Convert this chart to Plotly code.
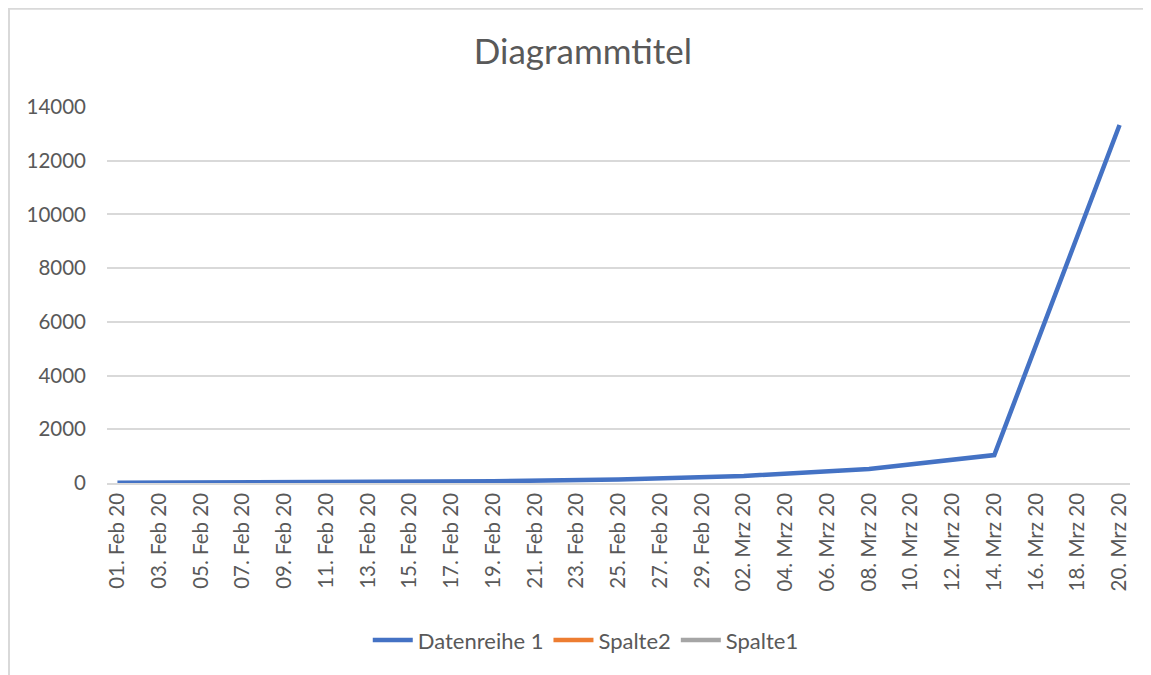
import plotly.graph_objects as go

# Data (dates every 6 days)
dates = ["2020-02-01", "2020-02-07", "2020-02-13", "2020-02-19", "2020-02-25",
         "2020-03-02", "2020-03-08", "2020-03-14", "2020-03-20"]
datenreihe1 = [8, 16, 33, 65, 130, 265, 520, 1040, 13330]
spalte2 = [None] * len(dates)
spalte1 = [None] * len(dates)

tick_dates = ["2020-02-01", "2020-02-03", "2020-02-05", "2020-02-07", "2020-02-09",
              "2020-02-11", "2020-02-13", "2020-02-15", "2020-02-17", "2020-02-19",
              "2020-02-21", "2020-02-23", "2020-02-25", "2020-02-27", "2020-02-29",
              "2020-03-02", "2020-03-04", "2020-03-06", "2020-03-08", "2020-03-10",
              "2020-03-12", "2020-03-14", "2020-03-16", "2020-03-18", "2020-03-20"]
tick_labels = ["01. Feb 20", "03. Feb 20", "05. Feb 20", "07. Feb 20", "09. Feb 20",
               "11. Feb 20", "13. Feb 20", "15. Feb 20", "17. Feb 20", "19. Feb 20",
               "21. Feb 20", "23. Feb 20", "25. Feb 20", "27. Feb 20", "29. Feb 20",
               "02. Mrz 20", "04. Mrz 20", "06. Mrz 20", "08. Mrz 20", "10. Mrz 20",
               "12. Mrz 20", "14. Mrz 20", "16. Mrz 20", "18. Mrz 20", "20. Mrz 20"]
y_ticks = [0, 2000, 4000, 6000, 8000, 10000, 12000, 14000]
y_labels = ["0", "2000", "4000", "6000", "8000", "10000", "12000", "14000"]

FONT = "Lato"
TXT = "#595959"

fig = go.Figure()
fig.add_trace(go.Scatter(x=dates, y=datenreihe1, mode="lines", name="Datenreihe 1",
                         line=dict(color="#4472C4", width=4.5)))
fig.add_trace(go.Scatter(x=dates, y=spalte2, mode="lines", name="Spalte2",
                         line=dict(color="#ED7D31", width=4.5)))
fig.add_trace(go.Scatter(x=dates, y=spalte1, mode="lines", name="Spalte1",
                         line=dict(color="#A5A5A5", width=4.5)))

fig.update_layout(
    width=1143, height=667,
    margin=dict(l=99, r=21, t=99, b=192, autoexpand=False),
    paper_bgcolor="white", plot_bgcolor="white",
    font=dict(family=FONT, color=TXT, size=20),
    title=dict(text="Diagrammtitel", x=0.503, xanchor="center", y=0.934, yanchor="middle",
               font=dict(family=FONT, size=35, color=TXT)),
    showlegend=True,
    legend=dict(orientation="h", x=0.468, xanchor="center", y=-0.418, yanchor="middle",
                font=dict(family=FONT, size=22, color=TXT), itemwidth=40),
    xaxis=dict(type="date", range=["2020-01-31 12:00", "2020-03-20 12:00"],
               tickvals=tick_dates, ticktext=tick_labels, tickangle=-90,
               showgrid=False, showline=True, linecolor="#D9D9D9", linewidth=1.5,
               ticks="", tickfont=dict(family=FONT, size=20.5, color=TXT), zeroline=False),
    yaxis=dict(range=[0, 14000], tickvals=y_ticks, ticktext=y_labels, showgrid=True,
               gridcolor="#D9D9D9", gridwidth=1.5, zeroline=False, showline=False,
               ticks="", ticklabelstandoff=20,
               tickfont=dict(family=FONT, size=20.5, color=TXT)),
)

# chart-area border (only top and left edges are visible in the crop)
fig.add_shape(type="rect", xref="paper", yref="paper",
              x0=-0.0958, x1=1.06, y0=-0.56, y1=1.261,
              line=dict(color="#D9D9D9", width=2), layer="below")

fig.write_html("out.html")
